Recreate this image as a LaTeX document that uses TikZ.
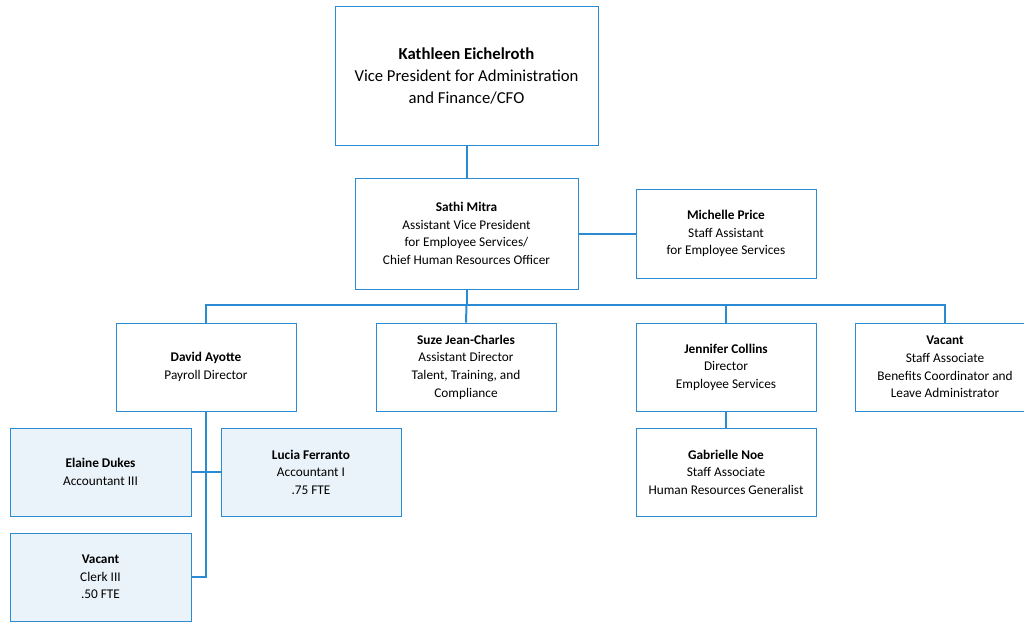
\documentclass[tikz,border=0pt]{standalone}
\usepackage{fontspec}
\setmainfont{Carlito}
\definecolor{lineblue}{HTML}{2A8AD2}
\definecolor{boxfill}{HTML}{EAF3FA}
\begin{document}
\begin{tikzpicture}[x=1pt,y=-1pt,
  box/.style={draw=lineblue,line width=0.9pt,align=center,inner sep=2pt,font=\fontsize{13.3}{17.6}\selectfont},
  wbox/.style={box,minimum width=180pt,minimum height=88pt},
  fbox/.style={wbox,fill=boxfill},
  conn/.style={draw=lineblue,line width=2pt}]
\useasboundingbox (0,0) rectangle (1024,621);
\clip (0,0) rectangle (1024,621);
\node[box,minimum width=263pt,minimum height=139pt,font=\fontsize{16.7}{22}\selectfont] (kath) at (466.5,75.5) {\textbf{Kathleen Eichelroth}\\Vice President for Administration\\and Finance/CFO};
\node[box,minimum width=223pt,minimum height=111pt] (sathi) at (466.5,233.5) {\textbf{Sathi Mitra}\\Assistant Vice President\\for Employee Services/\\Chief Human Resources Officer};
\node[wbox,minimum height=89pt] (mich) at (726,233.5) {\textbf{Michelle Price}\\Staff Assistant\\for Employee Services};
\node[wbox] (david) at (206,367) {\textbf{David Ayotte}\\Payroll Director};
\node[wbox] (suze) at (466,367) {\textbf{Suze Jean-Charles}\\Assistant Director\\Talent, Training, and\\Compliance};
\node[wbox] (jenn) at (726,367) {\textbf{Jennifer Collins}\\Director\\Employee Services};
\node[wbox] (vac) at (945,367) {\textbf{Vacant}\\Staff Associate\\Benefits Coordinator and\\Leave Administrator};
\node[fbox,minimum width=181pt] (elaine) at (100.5,472) {\textbf{Elaine Dukes}\\Accountant III};
\node[fbox] (lucia) at (311,472) {\textbf{Lucia Ferranto}\\Accountant I\\.75 FTE};
\node[fbox,minimum width=181pt] (clerk) at (100.5,577) {\textbf{Vacant}\\Clerk III\\.50 FTE};
\node[wbox] (gab) at (726,472) {\textbf{Gabrielle Noe}\\Staff Associate\\Human Resources Generalist};
\coordinate (bus) at (466.5,305);
\draw[conn] (kath.south) -- (sathi.north);
\draw[conn] (sathi.east) -- (mich.west);
\draw[conn] (sathi.south) -- (bus);
\draw[conn] (david.north) |- (bus) -| (vac.north);
\draw[conn] (bus) -- (suze.north);
\draw[conn] (bus) -| (jenn.north);
\draw[conn] (jenn.south) -- (gab.north);
\draw[conn] (david.south) |- (clerk.east);
\draw[conn] (elaine.east) -- (lucia.west);
\end{tikzpicture}
\end{document}
